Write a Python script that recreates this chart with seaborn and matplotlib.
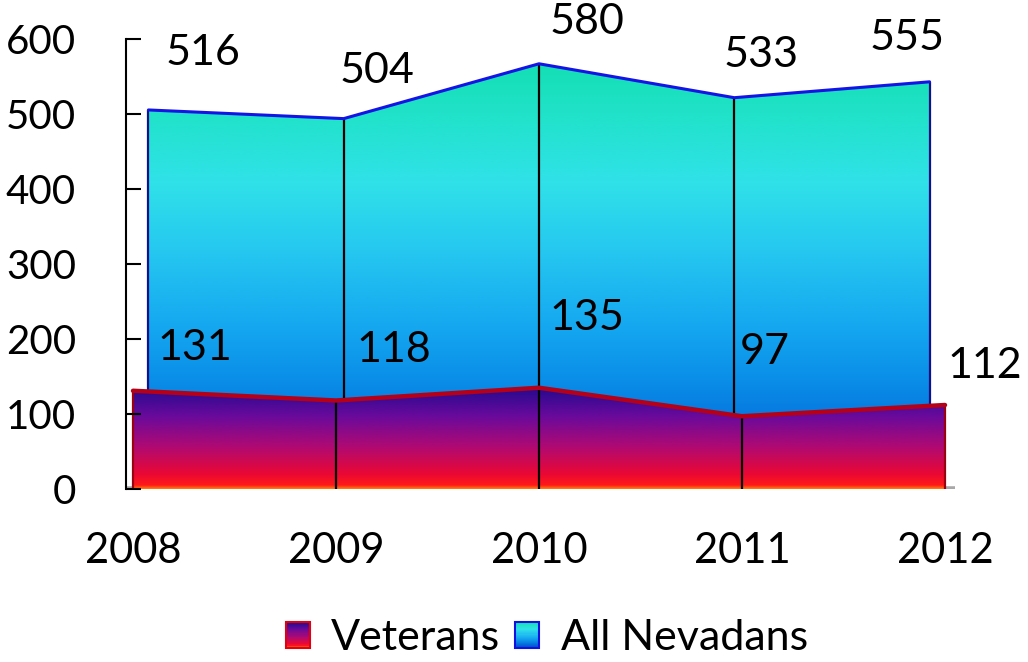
import matplotlib

matplotlib.use("Agg")

import matplotlib.pyplot as plt
import numpy as np
import seaborn as sns
from matplotlib.colors import LinearSegmentedColormap
from matplotlib.legend_handler import HandlerBase
from matplotlib.patches import Patch, Rectangle

YEARS = ["2008", "2009", "2010", "2011", "2012"]
VETERANS = [131, 118, 135, 97, 112]
ALL_NEVADANS = [516, 504, 580, 533, 555]
Y_TICKS = [0, 100, 200, 300, 400, 500, 600]

# label offsets in pixels from each point (mimics the Excel 3D placement)
VET_LABEL_OFFSETS = [(62, 43), (58, 50), (48, 70), (23, 64), (40, 39)]
NEV_LABEL_OFFSETS = [(55, 57), (33, 48), (48, 42), (27, 43), (-23, 44)]

# back row of the 3D chart is drawn slightly smaller and higher
DEPTH_SCALE = 0.962
DEPTH_LIFT = 9

VET_CMAP = LinearSegmentedColormap.from_list(
    "veterans",
    [(0.0, "#ff8010"), (0.035, "#ff1a18"), (0.14, "#ea0834"), (0.40, "#b00a72"), (0.70, "#680a9c"), (1.0, "#1c0a8c")],
)
NEV_CMAP = LinearSegmentedColormap.from_list(
    "nevadans",
    [(0.0, "#0050d0"), (0.25, "#0a8ee8"), (0.365, "#14a6f0"), (0.55, "#26c8f0"), (0.71, "#30e2e8"), (0.87, "#20e2c8"), (1.0, "#12deb0")],
)


class GradientHandler(HandlerBase):
    def __init__(self, cmap, edge):
        super().__init__()
        self.cmap = cmap
        self.edge = edge

    def create_artists(self, legend, orig_handle, xdescent, ydescent, width, height, fontsize, trans):
        artists = []
        steps = 24
        for i in range(steps):
            colour = self.cmap(1 - (i + 0.5) / steps)
            artists.append(
                Rectangle(
                    (-xdescent, -ydescent + height * (1 - (i + 1) / steps)),
                    width,
                    height / steps + 0.3,
                    facecolor=colour,
                    edgecolor="none",
                    transform=trans,
                )
            )
        artists.append(
            Rectangle((-xdescent, -ydescent), width, height, fill=False, edgecolor=self.edge, linewidth=1.5, transform=trans)
        )
        return artists


def gradient_area(ax, x, y, base, cmap, top, zorder):
    area = ax.fill_between(x, base, y, facecolor="none", edgecolor="none", zorder=zorder)
    image = ax.imshow(
        np.linspace(0, 1, 256).reshape(-1, 1),
        extent=(x.min() - 0.1, x.max() + 0.1, 0, top),
        origin="lower",
        aspect="auto",
        cmap=cmap,
        interpolation="bicubic",
        zorder=zorder,
    )
    image.set_clip_path(area.get_paths()[0], transform=ax.transData)


sns.set_theme(style="white")
plt.rcParams["font.family"] = ["Lato", "DejaVu Sans"]
plt.rcParams["text.color"] = "black"
plt.rcParams["xtick.color"] = "black"
plt.rcParams["ytick.color"] = "black"

fig = plt.figure(figsize=(10.28, 6.62), dpi=100)
ax = fig.add_axes([126 / 1028, 173 / 662, 829 / 1028, 450 / 662])

positions = np.arange(len(YEARS), dtype=float)
centre = positions.mean()
vet = np.array(VETERANS, dtype=float)
back_x = centre + (positions - centre) * DEPTH_SCALE
back_y = np.array(ALL_NEVADANS, dtype=float) * DEPTH_SCALE + DEPTH_LIFT

# back row: All Nevadans
gradient_area(ax, back_x, back_y, DEPTH_LIFT, NEV_CMAP, 580, zorder=1)
edge_colours = ["#10108a"] + ["black"] * (len(YEARS) - 2) + ["#10108a"]
ax.vlines(back_x, DEPTH_LIFT, back_y, colors=edge_colours, linewidth=1.6, zorder=2)
sns.lineplot(x=back_x, y=back_y, ax=ax, color="#1414e6", linewidth=2.2, zorder=2.5)

# front row: Veterans
ax.axhline(0, color="#a8a8a8", linewidth=4, zorder=0.5)
gradient_area(ax, positions, vet, 0, VET_CMAP, 140, zorder=3)
front_edges = ["#9a0010"] + ["black"] * (len(YEARS) - 2) + ["#9a0010"]
ax.vlines(positions, 0, vet, colors=front_edges, linewidth=1.6, zorder=4)
sns.lineplot(x=positions, y=vet, ax=ax, color="#b40018", linewidth=3.2, zorder=4.5)

for xb, yb, value, (dx, dy) in zip(back_x, back_y, ALL_NEVADANS, NEV_LABEL_OFFSETS):
    ax.annotate(str(value), (xb, yb), xytext=(dx, dy), textcoords="offset pixels",
                ha="center", va="center", fontsize=31, color="black", zorder=6)
for xf, yf, value, (dx, dy) in zip(positions, vet, VETERANS, VET_LABEL_OFFSETS):
    ax.annotate(str(value), (xf, yf), xytext=(dx, dy), textcoords="offset pixels",
                ha="center", va="center", fontsize=31, color="black", zorder=6)

ax.set_xlim(-7 / 203, -7 / 203 + 829 / 203)
ax.set_ylim(0, 600)
ax.set_xticks(positions)
ax.set_xticklabels(YEARS)
ax.set_yticks(Y_TICKS)
ax.tick_params(axis="x", length=0, pad=31, labelsize=30, labelcolor="black")
ax.tick_params(axis="y", direction="in", length=11, width=1.5, color="black", pad=36, labelsize=29,
               labelcolor="black", left=True)
ax.yaxis.set_zorder(10)
for side in ("top", "right", "bottom"):
    ax.spines[side].set_visible(False)
ax.spines["left"].set_color("black")
ax.spines["left"].set_linewidth(1.5)
ax.set_xlabel("")
ax.set_ylabel("")

vet_handle = Patch(label="Veterans")
nev_handle = Patch(label="All Nevadans")
fig.legend(
    handles=[vet_handle, nev_handle],
    handler_map={vet_handle: GradientHandler(VET_CMAP, "#e00010"), nev_handle: GradientHandler(NEV_CMAP, "#1010e0")},
    loc="center",
    bbox_to_anchor=(0.532, 0.036),
    ncol=2,
    frameon=False,
    fontsize=31,
    labelcolor="black",
    handlelength=0.55,
    handleheight=0.55,
    handletextpad=0.5,
    columnspacing=0.35,
)

fig.savefig("out.png", dpi=100)
